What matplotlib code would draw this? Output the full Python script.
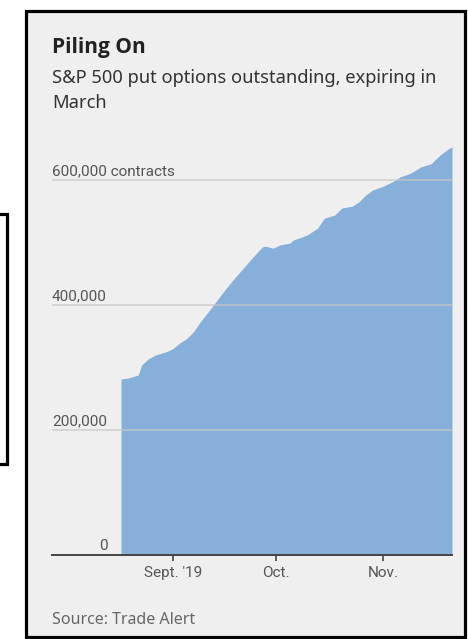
import matplotlib
matplotlib.use("Agg")
import matplotlib.pyplot as plt
import matplotlib.patches as patches
import pandas as pd

# values (contracts outstanding)
dates = ["2019-08-17", "2019-08-19", "2019-08-22", "2019-08-23", "2019-08-25",
         "2019-08-27", "2019-08-30", "2019-09-01", "2019-09-03", "2019-09-05",
         "2019-09-07", "2019-09-09", "2019-09-12", "2019-09-15", "2019-09-18",
         "2019-09-21", "2019-09-24", "2019-09-27", "2019-09-28", "2019-09-30",
         "2019-10-01", "2019-10-02", "2019-10-05", "2019-10-06", "2019-10-10",
         "2019-10-13", "2019-10-15", "2019-10-18", "2019-10-20", "2019-10-23",
         "2019-10-25", "2019-10-27", "2019-10-29", "2019-11-01", "2019-11-04",
         "2019-11-06", "2019-11-09", "2019-11-12", "2019-11-15", "2019-11-16",
         "2019-11-18", "2019-11-20", "2019-11-21"]
contracts = [281600, 283000, 288000, 304000, 314000,
             320000, 325000, 330000, 339000, 346000,
             357000, 373000, 394000, 416000, 437000,
             456000, 475000, 493000, 494000, 491000,
             493000, 496000, 499000, 504000, 512000,
             523000, 539000, 544000, 555000, 558000,
             565000, 576000, 584000, 590000, 598000,
             605000, 611000, 621000, 626000, 632000,
             642000, 650000, 653000]

grid_vals = [200000, 400000, 600000]
grid_labels = ["200,000", "400,000", "600,000 contracts"]
month_ticks = ["2019-09-01", "2019-10-01", "2019-11-01"]
month_labels = ["Sept. '19", "Oct.", "Nov."]

narrow = "Roboto"
W, H = 468, 639
fig = plt.figure(figsize=(W / 100, H / 100), dpi=100)
fig.patch.set_facecolor("white")

# outer frame
fig.patches.append(patches.Rectangle((25.5 / W, 1 - 637 / H), 439.5 / W, 626 / H,
                                     transform=fig.transFigure, facecolor="#efefef",
                                     edgecolor="black", linewidth=2.3, zorder=-5))
# partial box on the left edge
fig.patches.append(patches.Rectangle((-20 / W, 1 - 464 / H), 26.5 / W, 250 / H,
                                     transform=fig.transFigure, facecolor="none",
                                     edgecolor="black", linewidth=2.3, zorder=-5))

ax = fig.add_axes([52 / W, (H - 555) / H, 400 / W, 425 / H])
ax.set_facecolor("none")

x = pd.to_datetime(dates)
ax.fill_between(x, 0, contracts, color="#86b0da", linewidth=0, zorder=1)

for v in grid_vals:
    ax.axhline(v, color="#c8c8c8", alpha=0.75, linewidth=1.2, zorder=2)

ax.set_xlim(pd.Timestamp("2019-07-28"), pd.Timestamp("2019-11-21"))
ax.set_ylim(0, 680000)

for s in ["top", "right", "left"]:
    ax.spines[s].set_visible(False)
ax.spines["bottom"].set_color("#444444")
ax.spines["bottom"].set_linewidth(1.4)
ax.spines["bottom"].set_zorder(3)

ax.set_yticks([])
ax.set_xticks(pd.to_datetime(month_ticks))
ax.set_xticklabels(month_labels, fontfamily=narrow, fontsize=11, color="#555555")
ax.tick_params(axis="x", length=4, width=1.2, color="#444444", pad=4)

ytr = ax.get_yaxis_transform()
for v, lab in zip(grid_vals, grid_labels):
    ax.text(0, v + 3500, lab, transform=ytr, ha="left", va="bottom",
            fontfamily=narrow, fontsize=11, color="#555555")
ax.text(0.14, 3500, "0", transform=ytr, ha="right", va="bottom",
        fontfamily=narrow, fontsize=11, color="#555555")

fig.text(52 / W, 1 - 48 / H, "Piling On", fontfamily="Open Sans", fontweight="bold",
         fontsize=15, color="#222222", va="center")
fig.text(52 / W, 1 - 78 / H, "S&P 500 put options outstanding, expiring in",
         fontfamily="Noto Sans", fontsize=13.2, color="#333333", va="center")
fig.text(52 / W, 1 - 103 / H, "March", fontfamily="Noto Sans", fontsize=13.2,
         color="#333333", va="center")
fig.text(52 / W, 1 - 620 / H, "Source: Trade Alert", fontfamily="Noto Sans",
         fontsize=11.5, color="#666666", va="center")

fig.savefig("out.png", dpi=100)
